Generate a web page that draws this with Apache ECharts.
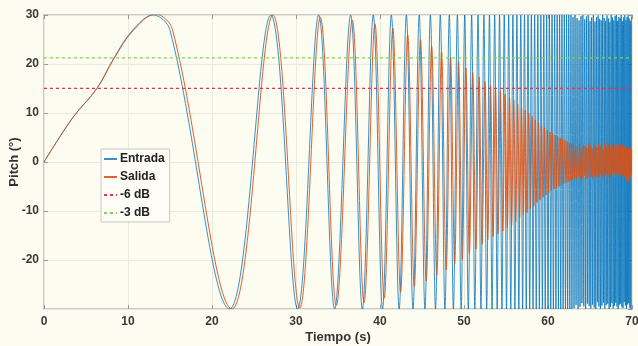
<!DOCTYPE html>
<html>
<head>
<meta charset="utf-8">
<script src="https://cdn.jsdelivr.net/npm/echarts@6/dist/echarts.min.js"></script>
<style>
  html, body { margin: 0; padding: 0; background: #fdfcf1; }
  #chart { width: 638px; height: 346px; }
</style>
</head>
<body>
<div id="chart"></div>
<script>
// chirp response, points: first lobe, then every peak / trough
const entradaT = [
  0, 3.4, 6.3, 8.25, 10.5, 13.0, 15.0, 22.1, 27.0, 30.2,
  32.7, 34.6, 36.5, 37.9, 39.2, 40.3, 41.35, 42.28, 43.14, 43.93,
  44.67, 45.35, 46.00, 46.61, 47.18, 47.73, 48.25, 48.74, 49.21, 49.66,
  50.09, 50.51, 50.91, 51.29, 51.67, 52.02, 52.37, 52.70, 53.03, 53.34,
  53.65, 53.95, 54.23, 54.52, 54.79, 55.06, 55.32, 55.57, 55.82, 56.06,
  56.30, 56.53, 56.76, 56.98, 57.20, 57.41, 57.62, 57.82, 58.02, 58.22,
  58.41, 58.60, 58.79, 58.97, 59.15, 59.33, 59.50, 59.67, 59.84, 60.00,
  60.17, 60.33, 60.48, 60.64, 60.79, 60.94, 61.09, 61.24, 61.38, 61.52,
  61.66, 61.80, 61.94, 62.08, 62.21, 62.34, 62.47, 62.60, 62.73, 62.85,
  62.98, 63.10, 63.22, 63.34, 63.46, 63.58, 63.70, 63.81, 63.93, 64.04,
  64.15, 64.26, 64.37, 64.48, 64.58, 64.69, 64.79, 64.90, 65.00, 65.10,
  65.20, 65.30, 65.40, 65.50, 65.59, 65.69, 65.78, 65.88, 65.97, 66.06,
  66.15, 66.24, 66.33, 66.42, 66.51, 66.60, 66.69, 66.77, 66.86, 66.94,
  67.03, 67.11, 67.19, 67.28, 67.36, 67.44, 67.52, 67.60, 67.68, 67.76,
  67.83, 67.91, 67.99, 68.06, 68.14, 68.21, 68.29, 68.36, 68.43, 68.51,
  68.58, 68.65, 68.72, 68.79, 68.86, 68.93, 69.00, 69.07, 69.14, 69.21,
  69.28, 69.34, 69.41, 69.48, 69.54, 69.61, 69.67, 69.74, 69.80, 69.87,
  69.93
];
const entradaY = [
  0, 9, 15, 21, 26.8, 30, 26.9, -30, 30, -30,
  30, -30, 30, -30, 30, -30, 30, -30, 30, -30,
  30, -30, 30, -30, 30, -30, 30, -30, 30, -30,
  30, -30, 30, -30, 30, -30, 30, -30, 30, -30,
  30, -30, 30, -30, 30, -30, 30, -30, 30, -30,
  30, -30, 30, -30, 30, -30, 30, -30, 30, -30,
  30, -30, 30, -30, 30, -30, 30, -30, 30, -30,
  30, -30, 30, -30, 30, -30, 30, -30, 30, -30,
  30, -30, 30, -30, 30, -30, 30, -30, 30, -30,
  29.6, -29.8, 30, -29.2, 29.4, -30, 28.9, -29.6, 29.8, -28.8,
  30, -29.5, 29.1, -30, 29.7, -28.9, 30, -29.4, 28.8, -29.9,
  29.5, -29.1, 30, -29.7, 28.7, -30, 29.6, -28.6, 29.9, -29.5,
  29.2, -30, 28.9, -29.3, 30, -28.7, 29.4, -29.9, 28.8, -29.2,
  29.9, -28.9, 29.3, -30, 28.6, -29.6, 30, -28.8, 29.5, -29.9,
  28.9, -29.4, 29.8, -28.7, 30, -29.5, 28.8, -30, 29.6, -29.1,
  29.4, -28.9, 30, -29.6, 28.7, -29.8, 29.5, -28.6, 30, -29.3,
  28.9, -30, 29.6, -29.1, 29.9, -28.8, 29.3, -29.7, 28.8, -30,
  29.7
];
const salidaT = [
  0, 3.4, 6.3, 8.3, 10.6, 13.25, 15.3, 22.4, 27.25, 30.45,
  32.9, 34.8, 36.7, 38.1, 39.4, 40.5, 41.53, 42.45, 43.3, 44.08,
  44.82, 45.5, 46.15, 46.76, 47.33, 47.88, 48.4, 48.89, 49.35, 49.8,
  50.22, 50.64, 51.04, 51.42, 51.8, 52.15, 52.5, 52.83, 53.16, 53.46,
  53.75, 54.05, 54.33, 54.62, 54.89, 55.16, 55.42, 55.67, 55.92, 56.16,
  56.39, 56.62, 56.85, 57.07, 57.29, 57.5, 57.71, 57.91, 58.11, 58.31,
  58.49, 58.68, 58.87, 59.05, 59.23, 59.41, 59.58, 59.75, 59.92, 60.08,
  60.24, 60.4, 60.55, 60.71, 60.86, 61.01, 61.16, 61.31, 61.45, 61.59,
  61.72, 61.86, 62.0, 62.14, 62.27, 62.4, 62.53, 62.66, 62.79, 62.91,
  63.03, 63.15, 63.27, 63.39, 63.51, 63.63, 63.75, 63.86, 63.98, 64.09,
  64.2, 64.31, 64.42, 64.53, 64.63, 64.74, 64.84, 64.95, 65.05, 65.15,
  65.24, 65.34, 65.44, 65.54, 65.63, 65.73, 65.82, 65.92, 66.01, 66.1,
  66.19, 66.28, 66.37, 66.46, 66.55, 66.64, 66.73, 66.81, 66.9, 66.98,
  67.06, 67.14, 67.22, 67.31, 67.39, 67.47, 67.55, 67.63, 67.71, 67.79,
  67.86, 67.94, 68.02, 68.09, 68.17, 68.24, 68.32, 68.39, 68.46, 68.54,
  68.61, 68.68, 68.75, 68.82, 68.89, 68.96, 69.03, 69.1, 69.17, 69.24,
  69.31, 69.37, 69.44, 69.51, 69.57, 69.64, 69.7, 69.77, 69.83, 69.9,
  69.96
];
const salidaY = [
  0, 9, 15, 21, 26.8, 30.2, 27, -30, 30, -29.8,
  29.5, -29.3, 29, -28.7, 28.2, -27.8, 27.3, -26.6, 26, -25.4,
  25, -24.3, 23.7, -23.1, 22.5, -22, 21.4, -20.8, 20.5, -19.9,
  19.2, -18.7, 18.3, -17.8, 17.3, -16.8, 16.4, -15.9, 15.6, -15.2,
  15, -14.7, 14.4, -14.1, 13.8, -13.5, 13.2, -12.9, 12.6, -12.2,
  11.8, -11.4, 11.1, -10.8, 10.6, -10.3, 10, -9.6, 9.3, -9,
  8.6, -8.3, 8, -7.7, 7.4, -7.2, 7, -6.7, 6.5, -6.3,
  6.1, -5.9, 5.8, -5.6, 5.5, -5.3, 5.2, -5, 4.9, -4.8,
  4.7, -4.5, 4.4, -4.3, 4.2, -4, 3.9, -3.8, 3.7, -3.6,
  3.9, -3.2, 3.4, -3.5, 3.1, -2.9, 3.6, -3.3, 2.8, -3.4,
  3.5, -2.7, 3.2, -3.6, 2.9, -3.1, 3.8, -2.6, 3.3, -3,
  2.7, -3.4, 3.6, -2.8, 3.1, -3.2, 2.9, -2.6, 3.7, -3.1,
  3.3, -2.5, 3.5, -3.3, 2.6, -2.9, 3.9, -2.7, 3.2, -2.4,
  3, -3.1, 3.6, -2.3, 2.8, -2.9, 3.4, -2.2, 3.7, -2.7,
  3.1, -2.4, 2.9, -2.8, 3.5, -2.1, 3.3, -2.6, 3.8, -2.3,
  3.2, -2.5, 2.7, -3, 3.6, -2.2, 3.1, -2.9, 3.4, -3.3,
  2.9, -3.8, 2.6, -4.2, 3, -3.6, 2.4, -3.1, 2.8, -2.6,
  2.5
];
// -6 dB and -3 dB levels of a 30 deg amplitude
const db6 = 15.04;
const db3 = 21.24;
const tRange = [0, 70];
const pitchRange = [-30, 30];

const pairs = (xs, ys) => xs.map((x, i) => [x, ys[i]]);
const font = 'Liberation Sans, Arial, sans-serif';
const tick = { show: true, inside: true, length: 4, lineStyle: { color: '#999' } };
const noLine = { show: false, onZero: false };
const labelStyle = { fontFamily: font, fontWeight: 'bold', fontSize: 12, color: '#3a3a3a', hideOverlap: false };
const nameStyle = { fontFamily: font, fontWeight: 'bold', fontSize: 13, color: '#333' };
const grid = { show: true, lineStyle: { color: '#e9e9df', width: 1 } };

const chart = echarts.init(document.getElementById('chart'), null, { renderer: 'canvas' });

chart.setOption({
  animation: false,
  backgroundColor: '#fdfcf1',
  grid: {
    left: 44, right: 6, top: 15, bottom: 37,
    containLabel: false,
    outerBoundsMode: 'none',
    show: true,
    borderColor: '#b8b8b8',
    borderWidth: 1.5,
    backgroundColor: 'transparent'
  },
  legend: {
    orient: 'vertical',
    left: 101, top: 149,
    padding: [4, 5, 3, 2],
    itemWidth: 13, itemHeight: 12, itemGap: 6,
    backgroundColor: '#fdfdf6',
    borderColor: '#c8c8c8',
    borderWidth: 1,
    borderRadius: 0,
    itemStyle: { opacity: 0 },
    textStyle: { fontFamily: font, fontWeight: 'bold', fontSize: 12, color: '#222', padding: [0, 0, 0, -2] },
    data: ['Entrada', 'Salida', '-6 dB', '-3 dB']
  },
  xAxis: [
    {
      type: 'value',
      min: tRange[0], max: tRange[1], interval: 10,
      name: 'Tiempo (s)', nameLocation: 'middle', nameGap: 22, nameMoveOverlap: false,
      nameTextStyle: nameStyle,
      axisLine: noLine,
      axisTick: tick,
      axisLabel: { ...labelStyle, margin: 7 },
      splitLine: grid
    },
    {
      type: 'value', position: 'top',
      min: tRange[0], max: tRange[1], interval: 10,
      axisLine: noLine, axisTick: tick,
      axisLabel: { show: false }, splitLine: { show: false }
    }
  ],
  yAxis: [
    {
      type: 'value',
      min: pitchRange[0], max: pitchRange[1], interval: 10,
      name: 'Pitch (°)', nameLocation: 'middle', nameGap: 23, nameRotate: 90, nameMoveOverlap: false,
      nameTextStyle: nameStyle,
      axisLine: noLine,
      axisTick: tick,
      axisLabel: { ...labelStyle, margin: 5, showMinLabel: false },
      splitLine: grid
    },
    {
      type: 'value', position: 'right',
      min: pitchRange[0], max: pitchRange[1], interval: 10,
      axisLine: noLine, axisTick: tick,
      axisLabel: { show: false }, splitLine: { show: false }
    }
  ],
  series: [
    {
      name: 'Entrada', type: 'line', data: pairs(entradaT, entradaY),
      smooth: 0.36, symbol: 'none', z: 2,
      lineStyle: { color: '#0072bd', width: 1, opacity: 0.78 },
      itemStyle: { color: '#0072bd' }
    },
    {
      name: 'Salida', type: 'line', data: pairs(salidaT, salidaY),
      smooth: 0.36, symbol: 'none', z: 3,
      lineStyle: { color: '#d95319', width: 1, opacity: 0.9 },
      itemStyle: { color: '#d95319' }
    },
    {
      name: '-6 dB', type: 'line', data: [[tRange[0], db6], [tRange[1], db6]],
      symbol: 'none', z: 4,
      lineStyle: { color: '#e0335a', width: 1.2, type: [3, 3] },
      itemStyle: { color: '#e0335a' }
    },
    {
      name: '-3 dB', type: 'line', data: [[tRange[0], db3], [tRange[1], db3]],
      symbol: 'none', z: 4,
      lineStyle: { color: '#7fd35a', width: 1.2, type: [3, 3] },
      itemStyle: { color: '#7fd35a' }
    }
  ]
});
</script>
</body>
</html>
